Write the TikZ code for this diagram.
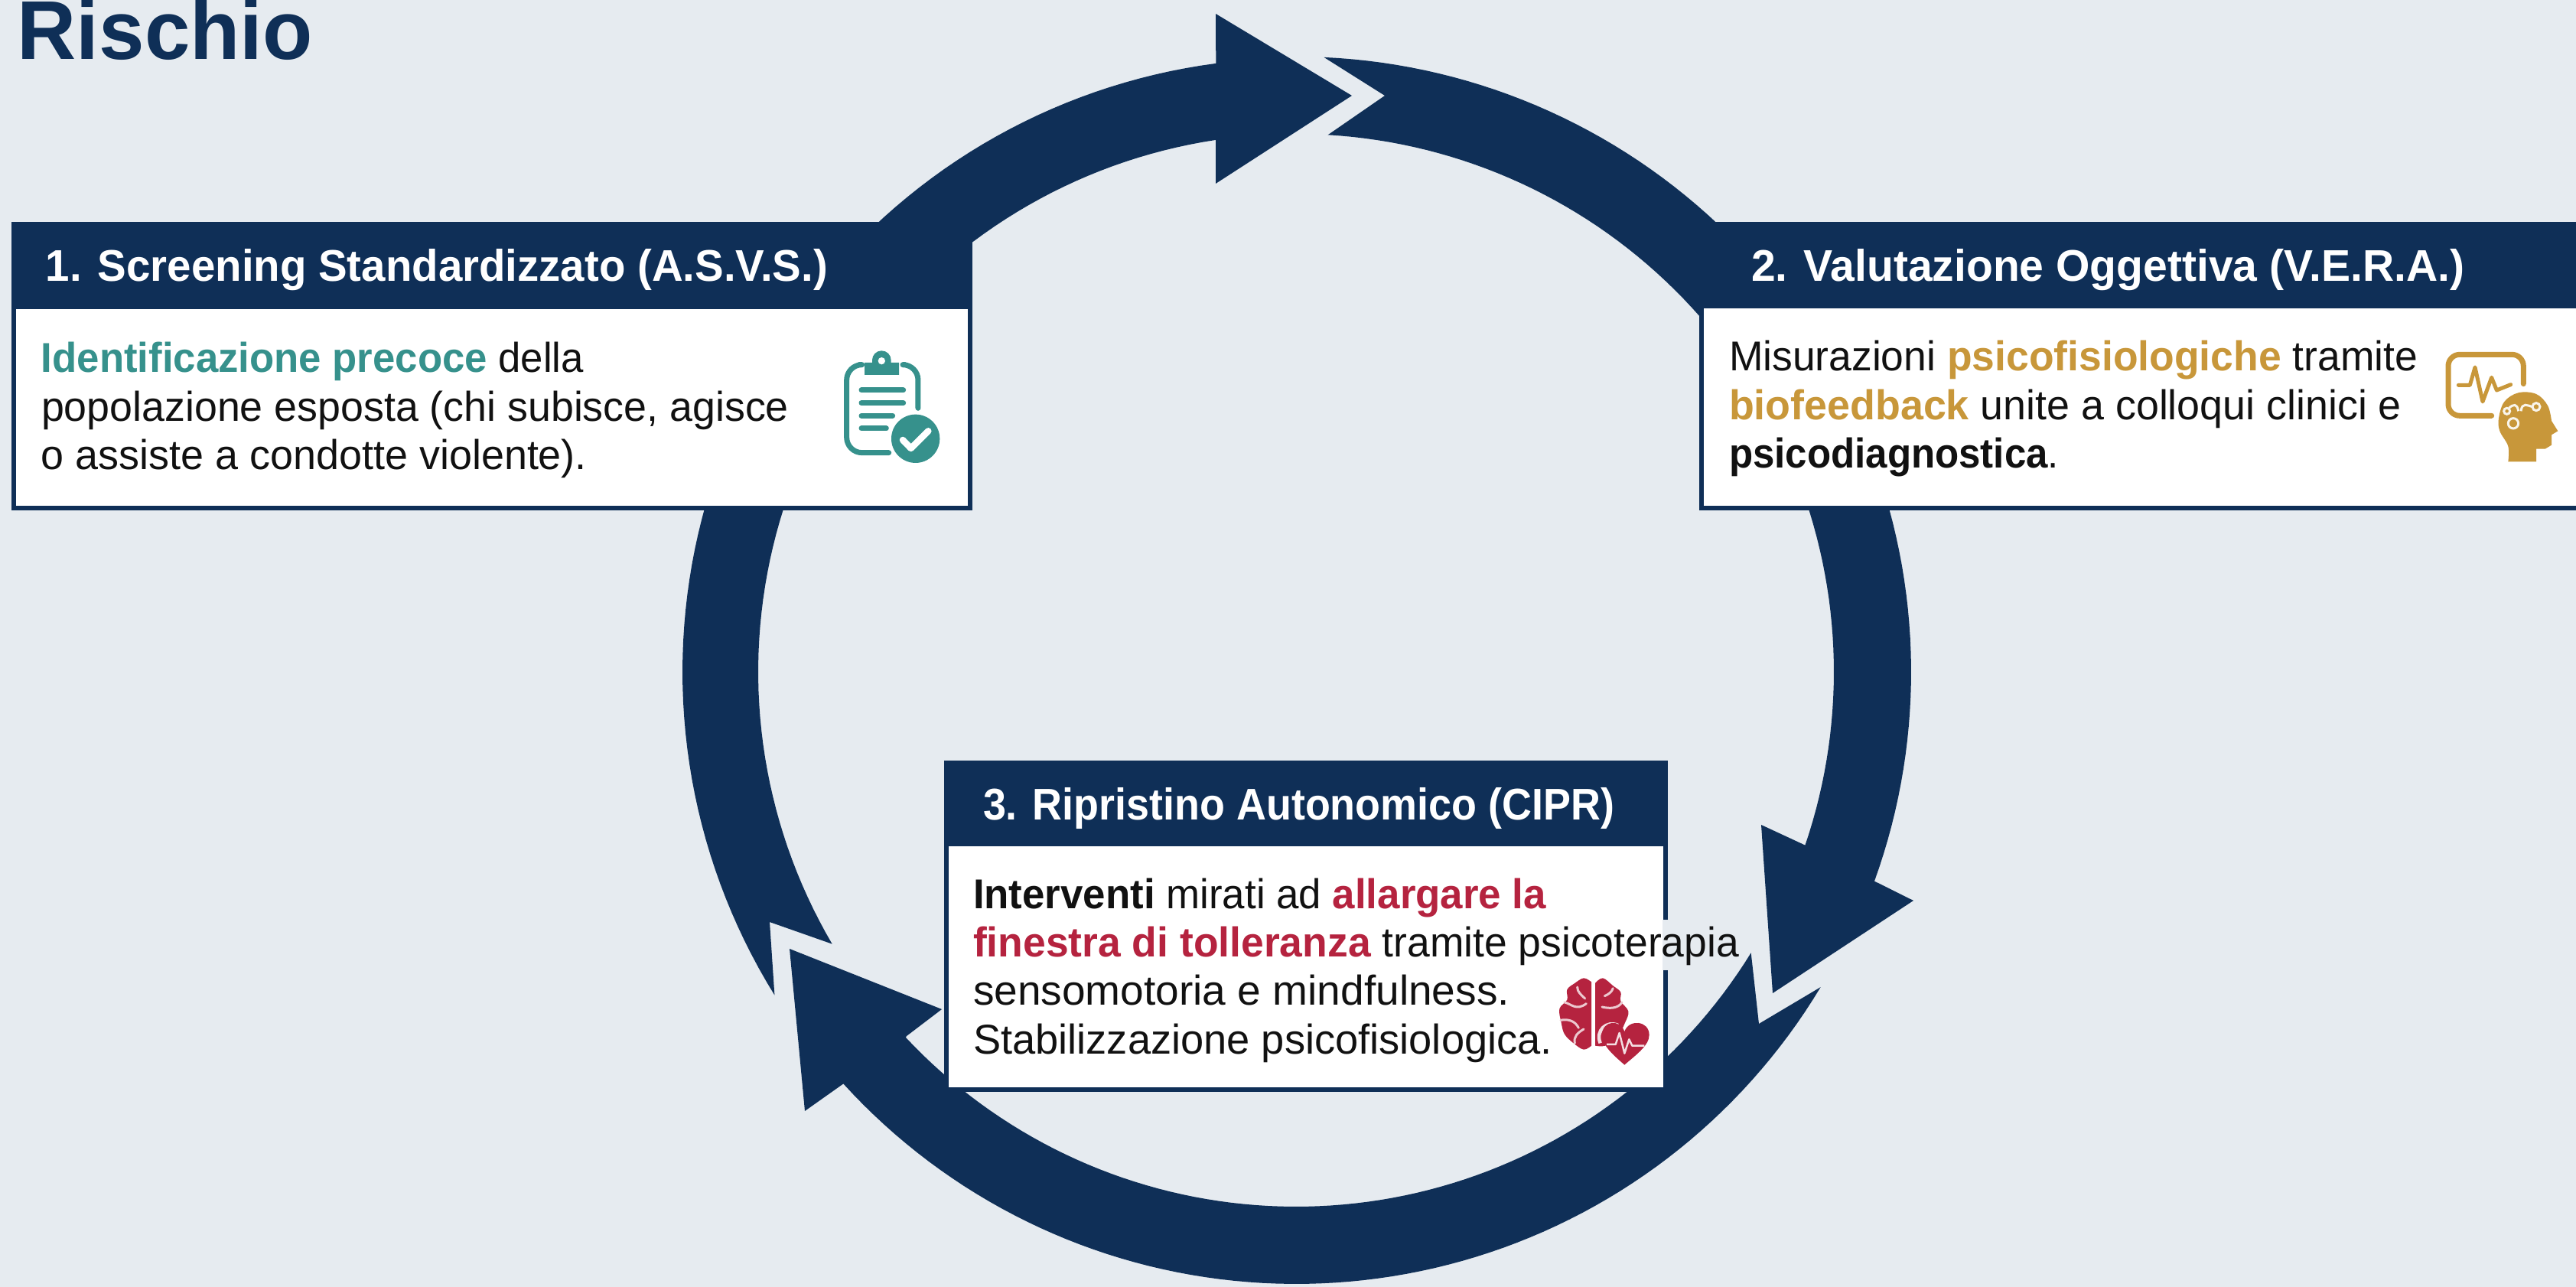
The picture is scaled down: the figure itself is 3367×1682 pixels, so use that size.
\documentclass[tikz,border=0pt]{standalone}
\usepackage{graphicx}
\usepackage{fontspec}
\setmainfont{Liberation Sans}
\definecolor{navy}{HTML}{0F2F57}
\definecolor{bgcol}{HTML}{E6EBF0}
\definecolor{tealc}{HTML}{36918C}
\definecolor{goldc}{HTML}{C8973A}
\definecolor{redc}{HTML}{B5233F}
\definecolor{inkc}{HTML}{111111}
\newcommand\fit[2]{\resizebox{#1}{\height}{#2}}
\newcommand\lead{\rule{0pt}{14pt}}
\newcommand\tb[2]{\textbf{\textcolor{#1}{#2}}}
\tikzset{
  panelbox/.style={rectangle,draw=navy,line width=0.6mm,fill=white,anchor=north west,inner sep=0pt,outer sep=0pt},
  headbox/.style={rectangle,fill=navy,anchor=north west,inner sep=0pt,outer sep=0pt},
  headtext/.style={anchor=base west,inner sep=0pt,outer sep=0pt,text=white,font=\fontsize{16.5pt}{20pt}\selectfont\bfseries},
  bodytext/.style={anchor=north west,inner sep=0pt,outer sep=0pt,align=left,text=inkc,font=\fontsize{15.5pt}{18.05pt}\selectfont},
  iconline/.style={line width=0.7mm,line cap=round,line join=round}
}
\begin{document}
\begin{tikzpicture}[x=0.1mm,y=-0.1mm]
\useasboundingbox (0,0) rectangle (3367,1682);
\fill[bgcol] (0,0) rectangle (3367,1682);
% ring segments
\fill[navy] plot[domain=-87.4:19.9,samples=80] ({1694+804*cos(\x)},{878+804*sin(\x)}) -- (2501,1177) -- (2317,1298) -- (2302,1078) -- (2358,1104) -- plot[domain=18.8:-86.6,samples=80] ({1694+703*cos(\x)},{878+703*sin(\x)}) -- (1810,125) -- cycle;
\fill[navy] plot[domain=31:137.7,samples=80] ({1694+800*cos(\x)},{878+800*sin(\x)}) -- (1052,1452) -- (1032,1240) -- (1231,1319) -- (1185,1354) -- plot[domain=136.9:31.7,samples=80] ({1694+699*cos(\x)},{878+699*sin(\x)}) -- (2299,1338) -- cycle;
\fill[navy] plot[domain=148.2:262.5,samples=80] ({1694+802*cos(\x)},{878+802*sin(\x)}) -- (1589,18) -- (1767,125) -- (1589,240) -- (1589,180) -- plot[domain=261.4:149.6,samples=80] ({1694+703*cos(\x)},{878+703*sin(\x)}) -- (1006,1205) -- cycle;
% title
\node[anchor=base west,inner sep=0pt,text=navy,font=\fontsize{31pt}{36pt}\selectfont\bfseries] (title) at (22,78) {\fit{38.6mm}{Rischio}};
% panel 1
\node[panelbox,minimum width=125cm/10,minimum height=37.1mm] (p1) at (18,293) {};
\node[headbox,minimum width=125.6mm,minimum height=11.4mm] (h1) at (15,290) {};
\node[headtext] (ht1) at (60,368) {\fit{102.2mm}{1. Screening Standardizzato (A.S.V.S.)}};
\node[bodytext] (b1) at (54,437.8) {\lead\fit{70.9mm}{\tb{tealc}{Identificazione precoce} della}\\\fit{97.7mm}{popolazione esposta (chi subisce, agisce}\\\fit{71.3mm}{o assiste a condotte violente).}};
% panel 2
\node[panelbox,minimum width=120mm,minimum height=37.1mm] (p2) at (2224,293) {};
\node[headbox,minimum width=120mm,minimum height=11.3mm] (h2) at (2221,290) {};
\node[headtext] (ht2) at (2289,368) {\fit{93.2mm}{2. Valutazione Oggettiva (V.E.R.A.)}};
\node[bodytext] (b2) at (2260,435.8) {\lead\fit{90mm}{Misurazioni \tb{goldc}{psicofisiologiche} tramite}\\\fit{87.9mm}{\tb{goldc}{biofeedback} unite a colloqui clinici e}\\\fit{43.1mm}{\textbf{psicodiagnostica}.}};
% panel 3
\node[panelbox,minimum width=94mm,minimum height=42.7mm] (p3) at (1237,997) {};
\node[headbox,minimum width=94.6mm,minimum height=11.2mm] (h3) at (1234,994) {};
\node[headtext] (ht3) at (1285,1072) {\fit{82.5mm}{3. Ripristino Autonomico (CIPR)}};
\fill[white] (2160,1202) rectangle (2173,1268);
\fill[bgcol] (2173,1202) rectangle (2183,1268);
\node[bodytext] (b3) at (1272,1137.8) {\lead\fit{74.9mm}{\textbf{Interventi} mirati ad \tb{redc}{allargare la}}\\\fit{100.1mm}{\tb{redc}{finestra di tolleranza} tramite psicoterapia}\\\fit{70.1mm}{sensomotoria e mindfulness.}\\\fit{75.7mm}{Stabilizzazione psicofisiologica.}};
% clipboard icon
\begin{scope}[shift={(1090,450)},scale=0.3333]
\draw[iconline,tealc,rounded corners=2mm] (98,80) -- (50,80) -- (50,425) -- (215,425);
\draw[iconline,tealc,rounded corners=2mm] (280,80) -- (330,80) -- (330,250);
\fill[tealc] (120,72) -- (150,72) -- (150,62) arc (180:360:37) -- (224,72) -- (255,72) -- (255,120) -- (120,120) -- cycle;
\fill[white] (187,65) circle (14);
\draw[iconline,tealc] (108,180) -- (272,180);
\draw[iconline,tealc] (108,230) -- (272,230);
\draw[iconline,tealc] (108,280) -- (230,280);
\draw[iconline,tealc] (108,330) -- (205,330);
\fill[tealc] (320,370) circle (95);
\draw[line width=0.85mm,white,line cap=round,line join=round] (270,375) -- (302,408) -- (370,340);
\end{scope}
% monitor and head icon
\begin{scope}[shift={(3180,450)},scale=0.3333]
\draw[iconline,goldc,rounded corners=1.5mm] (355,155) -- (355,40) -- (60,40) -- (60,280) -- (230,280);
\draw[line width=0.5mm,goldc,line join=round,line cap=round] (100,160) -- (145,160) -- (165,90) -- (195,225) -- (230,130) -- (250,180) -- (305,158);
\fill[goldc] plot[smooth,tension=0.6] coordinates {(295,460) (295,400) (262,340) (258,290) (280,225) (335,190) (405,195) (450,240) (465,300)} -- (490,340) -- (465,355) -- (465,395) -- (440,410) -- (405,410) -- (405,460) -- cycle;
\draw[line width=0.3mm,white!90!goldc] (315,310) circle (20);
\draw[line width=0.3mm,white!90!goldc] (405,245) circle (15);
\draw[line width=0.3mm,white!90!goldc] (290,262) circle (12);
\draw[line width=0.3mm,white!90!goldc] (298,250) .. controls (315,235) and (330,230) .. (335,262);
\draw[line width=0.3mm,white!90!goldc] (345,262) .. controls (350,225) and (370,240) .. (390,245);
\end{scope}
% brain and heart icon
\begin{scope}[shift={(2020,1190)},scale=0.3333]
\fill[redc] plot[smooth,tension=0.6] coordinates {(180,280) (150,265) (115,285) (85,310) (85,350) (55,385) (62,440) (75,485) (110,520) (150,545) (180,530)} -- cycle;
\fill[redc] plot[smooth,tension=0.6] coordinates {(195,285) (225,265) (265,295) (295,320) (295,355) (325,395) (312,440) (280,500) (235,530) (195,530)} -- cycle;
\begin{scope}[line width=0.3mm,white!75!redc,line cap=round]
\draw (125,300) .. controls (125,320) and (140,330) .. (155,345);
\draw (75,360) .. controls (100,365) and (120,395) .. (160,365);
\draw (60,430) .. controls (85,425) and (115,430) .. (130,460);
\draw (150,465) .. controls (125,480) and (110,495) .. (115,520);
\draw (265,305) .. controls (260,320) and (245,330) .. (232,335);
\draw (300,360) .. controls (285,385) and (250,385) .. (222,378);
\end{scope}
\draw[line width=0.45mm,white!85!redc] (215,520) .. controls (195,470) and (240,430) .. (285,450);
\fill[redc] (310,605) .. controls (270,570) and (222,530) .. (222,488) .. controls (222,430) and (295,425) .. (310,475) .. controls (325,425) and (407,430) .. (407,488) .. controls (407,530) and (350,570) .. (310,605) -- cycle;
\draw[line width=0.25mm,white!85!redc,line join=round] (240,525) -- (275,525) -- (290,480) -- (310,560) -- (328,505) -- (340,530) -- (388,530);
\end{scope}
\end{tikzpicture}
\end{document}
